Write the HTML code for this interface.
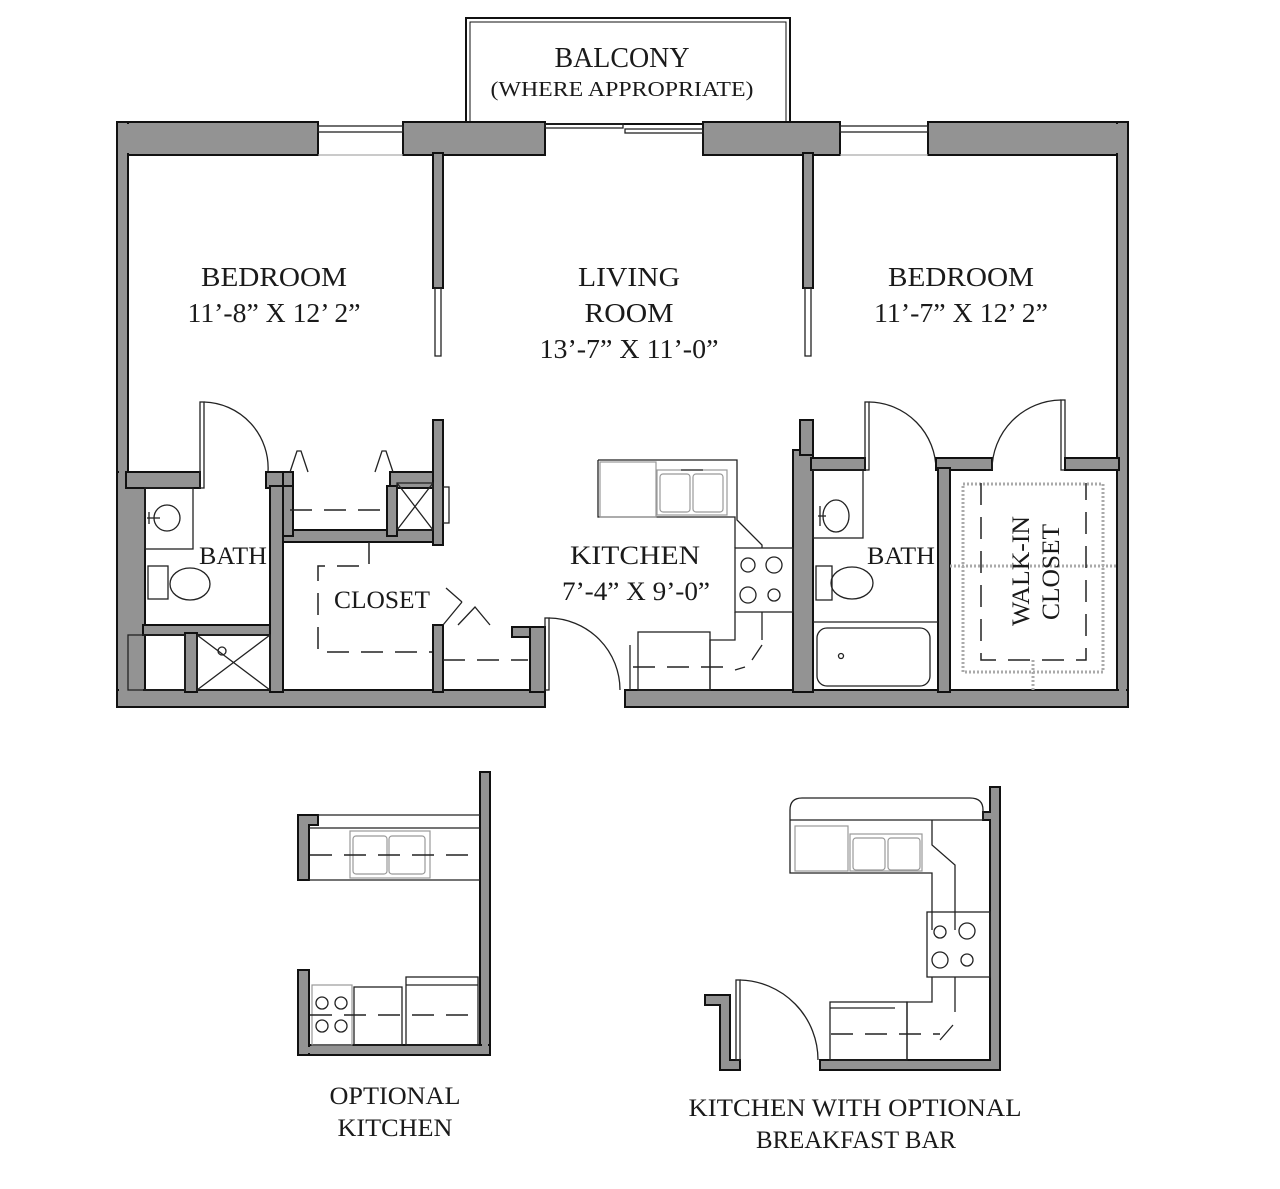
<!DOCTYPE html>
<html><head><meta charset="utf-8"><style>
html,body{margin:0;padding:0;background:#fff;}
svg{display:block}
.w{fill:#939393;stroke:#111;stroke-width:2}
.l{fill:none;stroke:#222;stroke-width:1.3}
.d{fill:none;stroke:#222;stroke-width:1.5;stroke-dasharray:22 12}
.g{fill:none;stroke:#999;stroke-width:1.2}
.gd{fill:none;stroke:#aaa;stroke-width:3;stroke-dasharray:2 2}
text{font-family:"Liberation Serif",serif;fill:#1a1a1a;}
</style></head><body>
<svg width="1280" height="1189" viewBox="0 0 1280 1189" xmlns="http://www.w3.org/2000/svg">
<rect x="466" y="18" width="324" height="106" fill="none" stroke="#111" stroke-width="2"/>
<rect x="470" y="22" width="316" height="102" fill="none" stroke="#111" stroke-width="1"/>
<text x="622" y="67" font-size="28" text-anchor="middle" textLength="135" lengthAdjust="spacingAndGlyphs">BALCONY</text>
<text x="622" y="96" font-size="21" text-anchor="middle" textLength="263" lengthAdjust="spacingAndGlyphs">(WHERE APPROPRIATE)</text>

<rect class="w" x="117" y="122" width="201" height="33"/>
<rect class="w" x="403" y="122" width="142" height="33"/>
<rect class="w" x="703" y="122" width="137" height="33"/>
<rect class="w" x="928" y="122" width="200" height="33"/>
<g class="l"><rect x="318" y="126" width="85" height="6"/><line x1="318" y1="155" x2="403" y2="155" stroke="#aaa"/>
<rect x="840" y="126" width="88" height="6"/><line x1="840" y1="155" x2="928" y2="155" stroke="#aaa"/>
<rect x="545" y="124" width="78" height="4"/><rect x="625" y="129" width="78" height="4"/></g>
<rect class="w" x="117" y="122" width="11" height="585"/>
<rect class="w" x="1117" y="122" width="11" height="585"/>
<rect class="w" x="117" y="472" width="28" height="235"/>
<rect class="w" x="117" y="690" width="428" height="17"/>
<rect class="w" x="625" y="690" width="503" height="17"/>
<rect x="119" y="124" width="7" height="581" fill="#939393"/>
<rect x="1119" y="124" width="7" height="581" fill="#939393"/>
<rect x="119" y="124" width="197" height="29" fill="#939393"/>
<rect x="930" y="124" width="196" height="29" fill="#939393"/>
<rect x="119" y="474" width="24" height="231" fill="#939393"/>
<rect x="119" y="692" width="424" height="13" fill="#939393"/>
<rect x="627" y="692" width="499" height="13" fill="#939393"/>

<rect class="w" x="433" y="153" width="10" height="135"/>
<rect class="l" x="435" y="288" width="6" height="68"/>
<rect class="w" x="803" y="153" width="10" height="135"/>
<rect class="l" x="805" y="288" width="6" height="68"/>

<rect class="w" x="126" y="472" width="74" height="16"/>
<rect class="l" x="200" y="402" width="4" height="86"/>
<path class="l" d="M204 402 A66 66 0 0 1 268 472"/>
<rect class="w" x="266" y="472" width="18" height="16"/>
<rect class="w" x="270" y="486" width="13" height="206"/>
<rect class="w" x="143" y="625" width="127" height="10"/>
<rect class="w" x="185" y="633" width="12" height="59"/>
<rect class="l" x="145" y="488" width="48" height="61"/>
<circle class="l" cx="167" cy="518" r="13"/>
<line class="l" x1="147" y1="518" x2="160" y2="518"/><line class="l" x1="149" y1="512" x2="149" y2="524"/>
<rect class="l" x="148" y="566" width="20" height="33"/>
<ellipse class="l" cx="190" cy="584" rx="20" ry="16"/>
<rect class="l" x="128" y="635" width="57" height="55"/>
<rect class="l" x="197" y="635" width="73" height="55"/>
<path class="l" d="M197 635 L270 690 M270 635 L197 690"/><circle class="l" cx="222" cy="651" r="4" fill="#fff"/>

<rect class="w" x="283" y="472" width="10" height="16"/>
<rect class="w" x="390" y="472" width="43" height="16"/>
<rect class="w" x="283" y="530" width="160" height="12"/>
<rect class="w" x="283" y="486" width="10" height="50"/>
<rect class="w" x="387" y="486" width="10" height="50"/>
<rect class="w" x="433" y="420" width="10" height="125"/>
<rect class="l" x="397" y="483" width="36" height="47"/>
<path class="l" d="M397 530 L433 483 M397 483 L433 530"/>
<rect class="l" x="443" y="487" width="6" height="36"/>
<path class="l" d="M290 472 L297 451 L301 451 L308 472 M375 472 L382 451 L386 451 L393 472"/>
<line class="d" x1="290" y1="510" x2="390" y2="510"/>
<path class="d" d="M369 542 L369 566 L318 566 L318 652 L433 652"/>
<text x="382" y="608" font-size="25" text-anchor="middle" textLength="96" lengthAdjust="spacingAndGlyphs">CLOSET</text>
<rect class="w" x="433" y="625" width="10" height="67"/>
<path class="l" d="M443 625 L462 602 M446 588 L462 602 M458 625 L475 607 L490 625"/>
<rect class="w" x="512" y="627" width="33" height="10"/>
<rect class="w" x="530" y="627" width="15" height="65"/>
<line class="d" x1="443" y1="660" x2="528" y2="660"/>
<rect class="l" x="545" y="618" width="4" height="72"/>
<path class="l" d="M549 618 A72 72 0 0 1 620 690"/>

<rect class="w" x="793" y="450" width="20" height="242"/>
<rect class="w" x="800" y="420" width="13" height="35"/>
<path class="l" d="M598 460 L737 460 L737 520 L762 545 L762 548 M598 460 L598 517 L735 517 L735 548"/>
<rect class="g" x="600" y="462" width="56" height="55"/>
<rect class="g" x="657" y="470" width="70" height="45"/>
<rect class="g" x="660" y="474" width="30" height="38" rx="3"/><rect class="g" x="693" y="474" width="30" height="38" rx="3"/>
<line class="l" x1="681" y1="470" x2="703" y2="470"/>
<rect class="l" x="735" y="548" width="58" height="64"/>
<circle class="l" cx="748" cy="565" r="7"/><circle class="l" cx="774" cy="565" r="8"/>
<circle class="l" cx="748" cy="595" r="8"/><circle class="l" cx="774" cy="595" r="6"/>
<path class="l" d="M735 612 L735 640 L710 640 L710 690 M762 612 L762 640 M762 645 L752 660 M745 667 L735 670"/>
<rect class="l" x="638" y="632" width="72" height="58"/>
<line class="l" x1="630" y1="645" x2="630" y2="690"/>
<line class="d" x1="633" y1="667" x2="735" y2="667"/>
<text x="635" y="564" font-size="26" text-anchor="middle" textLength="130" lengthAdjust="spacingAndGlyphs">KITCHEN</text>
<text x="636" y="600" font-size="26" text-anchor="middle" textLength="148" lengthAdjust="spacingAndGlyphs">7’-4” X 9’-0”</text>

<rect class="w" x="811" y="458" width="54" height="12"/>
<rect class="l" x="865" y="402" width="4" height="68"/>
<path class="l" d="M869 402 A68 68 0 0 1 936 470"/>
<rect class="w" x="936" y="458" width="56" height="12"/>
<rect class="w" x="938" y="468" width="12" height="224"/>
<path class="l" d="M1061 400 A70 70 0 0 0 992 470"/>
<rect class="l" x="1061" y="400" width="4" height="70"/>
<rect class="w" x="1065" y="458" width="54" height="12"/>
<rect class="l" x="813" y="470" width="50" height="68"/>
<ellipse class="l" cx="836" cy="516" rx="13" ry="16"/>
<line class="l" x1="818" y1="516" x2="826" y2="516"/><line class="l" x1="820" y1="506" x2="820" y2="526"/>
<rect class="l" x="816" y="566" width="16" height="34"/>
<ellipse class="l" cx="852" cy="583" rx="21" ry="16"/>
<line class="l" x1="813" y1="622" x2="938" y2="622"/>
<rect class="l" x="817" y="628" width="113" height="58" rx="10"/>
<circle class="l" cx="841" cy="656" r="2.5"/>
<rect class="gd" x="963" y="484" width="140" height="188"/>
<line class="gd" x1="950" y1="566" x2="1117" y2="566"/>
<line class="gd" x1="1033" y1="660" x2="1033" y2="690"/>
<path class="d" d="M981 483 L981 660 L1086 660 L1086 483"/>
<text transform="translate(1029,571) rotate(-90)" font-size="25" text-anchor="middle" textLength="110" lengthAdjust="spacingAndGlyphs">WALK-IN</text>
<text transform="translate(1059,572) rotate(-90)" font-size="25" text-anchor="middle" textLength="96" lengthAdjust="spacingAndGlyphs">CLOSET</text>

<text x="274" y="286" font-size="27" text-anchor="middle" textLength="146" lengthAdjust="spacingAndGlyphs">BEDROOM</text>
<text x="274" y="322" font-size="27" text-anchor="middle" textLength="173" lengthAdjust="spacingAndGlyphs">11’-8” X 12’ 2”</text>
<text x="629" y="286" font-size="27" text-anchor="middle" textLength="102" lengthAdjust="spacingAndGlyphs">LIVING</text>
<text x="629" y="322" font-size="27" text-anchor="middle" textLength="89" lengthAdjust="spacingAndGlyphs">ROOM</text>
<text x="629" y="358" font-size="27" text-anchor="middle" textLength="179" lengthAdjust="spacingAndGlyphs">13’-7” X 11’-0”</text>
<text x="961" y="286" font-size="27" text-anchor="middle" textLength="146" lengthAdjust="spacingAndGlyphs">BEDROOM</text>
<text x="961" y="322" font-size="27" text-anchor="middle" textLength="174" lengthAdjust="spacingAndGlyphs">11’-7” X 12’ 2”</text>
<text x="233" y="564" font-size="25" text-anchor="middle" textLength="68" lengthAdjust="spacingAndGlyphs">BATH</text>
<text x="901" y="564" font-size="25" text-anchor="middle" textLength="68" lengthAdjust="spacingAndGlyphs">BATH</text>

<rect class="w" x="480" y="772" width="10" height="283"/>
<rect class="w" x="298" y="1045" width="192" height="10"/>
<rect x="482" y="774" width="6" height="279" fill="#939393"/>
<path class="w" d="M298 815 L318 815 L318 825 L309 825 L309 880 L298 880 Z"/>
<rect class="w" x="298" y="970" width="11" height="85"/>
<rect x="300" y="1047" width="188" height="6" fill="#939393"/>
<path class="l" d="M318 815 L480 815 M309 828 L480 828 M309 880 L480 880"/>
<rect class="g" x="350" y="831" width="80" height="47"/>
<rect class="g" x="353" y="836" width="34" height="38" rx="3"/><rect class="g" x="389" y="836" width="36" height="38" rx="3"/>
<line class="d" x1="310" y1="855" x2="480" y2="855"/>
<rect class="g" x="312" y="985" width="40" height="60"/>
<circle class="l" cx="322" cy="1003" r="6"/><circle class="l" cx="341" cy="1003" r="6"/>
<circle class="l" cx="322" cy="1026" r="6"/><circle class="l" cx="341" cy="1026" r="6"/>
<rect class="l" x="354" y="987" width="48" height="58"/>
<rect class="l" x="406" y="977" width="72" height="68"/>
<line class="l" x1="406" y1="985" x2="478" y2="985"/>
<line class="d" x1="310" y1="1015" x2="480" y2="1015"/>
<text x="395" y="1104" font-size="25" text-anchor="middle" textLength="131" lengthAdjust="spacingAndGlyphs">OPTIONAL</text>
<text x="395" y="1136" font-size="25" text-anchor="middle" textLength="115" lengthAdjust="spacingAndGlyphs">KITCHEN</text>

<path class="w" d="M990 787 L1000 787 L1000 1070 L820 1070 L820 1060 L990 1060 L990 820 L983 820 L983 812 L990 812 Z"/>
<path class="w" d="M705 995 L730 995 L730 1060 L740 1060 L740 1070 L720 1070 L720 1005 L705 1005 Z"/>
<path class="l" d="M790 820 L790 810 Q790 798 802 798 L970 798 Q983 798 983 810 L983 820"/>
<path class="l" d="M790 820 L983 820 M790 820 L790 873 L932 873 L932 930 M932 820 L932 845 L955 865 L955 930"/>
<rect class="g" x="795" y="826" width="53" height="45"/>
<rect class="g" x="850" y="834" width="72" height="37"/>
<rect class="g" x="853" y="838" width="32" height="32" rx="3"/><rect class="g" x="888" y="838" width="32" height="32" rx="3"/>
<rect class="l" x="927" y="912" width="63" height="65"/>
<circle class="l" cx="940" cy="932" r="6"/><circle class="l" cx="967" cy="931" r="8"/>
<circle class="l" cx="940" cy="960" r="8"/><circle class="l" cx="967" cy="960" r="6"/>
<path class="l" d="M932 977 L932 1002 L907 1002 L907 1060 M955 977 L955 1012 M953 1025 L940 1040"/>
<rect class="l" x="830" y="1002" width="77" height="58"/>
<line class="l" x1="830" y1="1008" x2="895" y2="1008"/>
<line class="d" x1="831" y1="1034" x2="940" y2="1034"/>
<rect class="l" x="736" y="980" width="4" height="80"/>
<path class="l" d="M740 980 A80 80 0 0 1 818 1060"/>
<text x="855" y="1116" font-size="25" text-anchor="middle" textLength="333" lengthAdjust="spacingAndGlyphs">KITCHEN WITH OPTIONAL</text>
<text x="856" y="1148" font-size="25" text-anchor="middle" textLength="200" lengthAdjust="spacingAndGlyphs">BREAKFAST BAR</text>
</svg>
</body></html>
